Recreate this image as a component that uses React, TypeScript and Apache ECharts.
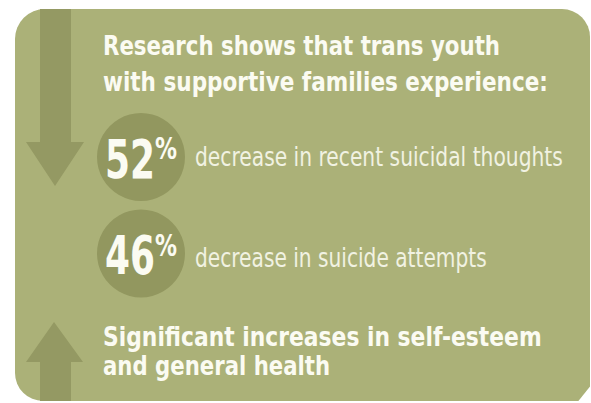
import React, { useEffect, useRef } from "react";
import * as echarts from "echarts";

// ---- data ----
const headline: string[] = ["Research shows that trans youth", "with supportive families experience:"];
const statValues: number[] = [52, 46];
const statUnit = "%";
const statLabels: string[] = ["decrease in recent suicidal thoughts", "decrease in suicide attempts"];
const footer: string[] = ["Significant increases in self-esteem", "and general health"];

const FONT = '"Liberation Sans Narrow","DejaVu Sans Condensed","Arial Narrow",sans-serif';
const PANEL = "#abb178";
const DARK = "#92975f";
const ARROW = "#949963";
const TEXT = "#fbfbf2";
const TEXT2 = "#f1f2e2";

let ctx: CanvasRenderingContext2D | null = null;
function measure(text: string, size: number, weight: string) {
  if (!ctx) ctx = document.createElement("canvas").getContext("2d");
  if (!ctx) return 1;
  ctx.font = `${weight} ${size}px ${FONT}`;
  return ctx.measureText(text).width || 1;
}

function txt(text: string, x: number, y: number, size: number, weight: string, width: number, fill: string) {
  const w = measure(text, size, weight);
  return {
    type: "text",
    x,
    y,
    scaleX: width / w,
    silent: true,
    style: {
      text,
      x: 0,
      y: 0,
      fill,
      fontSize: size,
      fontWeight: weight,
      fontFamily: FONT,
      align: "left",
      verticalAlign: "middle",
    },
  };
}

export default function App() {
  const ref = useRef<HTMLDivElement>(null);
  useEffect(() => {
    if (!ref.current) return;
    const chart = echarts.init(ref.current, undefined, { renderer: "svg" });

    const headY = [46, 82.5];
    const headW = [397, 445];
    const statY = [157, 253.5];
    const labelW = [368, 292];
    const footY = [337.5, 366.5];
    const footW = [439, 227];

    const elements: any[] = [
      { type: "rect", shape: { x: 0, y: 0, width: 591, height: 403 }, style: { fill: "#ffffff" }, silent: true },
      { type: "rect", shape: { x: 15, y: 9, width: 575, height: 392, r: [30, 28, 0, 28] }, style: { fill: PANEL }, silent: true },
      // down arrow
      {
        type: "polygon",
        shape: { points: [[40, 9], [71, 9], [71, 142], [84, 142], [55, 186], [26, 142], [40, 142]] },
        style: { fill: ARROW },
        silent: true,
      },
      // up arrow
      {
        type: "polygon",
        shape: { points: [[40, 401], [40, 362], [26, 362], [54, 322], [83, 362], [71, 362], [71, 401]] },
        style: { fill: ARROW },
        silent: true,
      },
      // bottom-right cut
      { type: "polygon", shape: { points: [[576, 404], [592, 384], [592, 404]] }, style: { fill: "#ffffff" }, silent: true },
    ];

    headline.forEach((t, i) => elements.push(txt(t, 103, headY[i], 26, "bold", headW[i], TEXT)));

    statValues.forEach((v, i) => {
      const cy = statY[i];
      elements.push({ type: "circle", shape: { cx: 141, cy, r: 44 }, style: { fill: DARK }, silent: true });
      elements.push(txt(String(v), 105, cy + 2, 54, "bold", 50, TEXT));
      elements.push(txt(statUnit, 155, cy - 8, 30, "bold", 22, TEXT));
      elements.push(txt(statLabels[i], 195, cy + (i === 0 ? 0 : 4), 26, "normal", labelW[i], TEXT2));
    });

    footer.forEach((t, i) => elements.push(txt(t, 103, footY[i], 26, "bold", footW[i], TEXT)));

    chart.setOption({ animation: false, graphic: { elements } });
    return () => chart.dispose();
  }, []);
  return <div ref={ref} style={{ position: "fixed", left: 0, top: 0, width: 591, height: 403, background: "#fff" }} />;
}
